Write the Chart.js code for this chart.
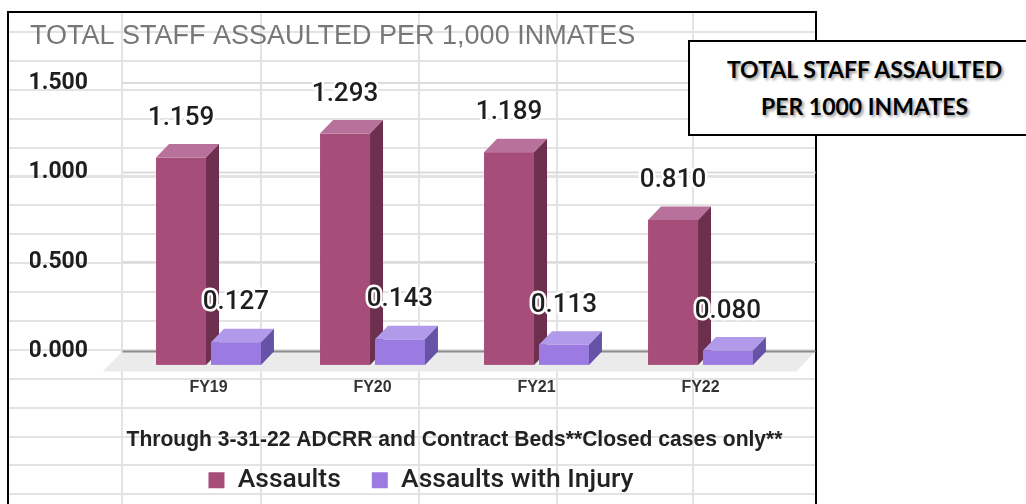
<!DOCTYPE html>
<html>
<head>
<meta charset="utf-8">
<script src="https://cdn.jsdelivr.net/npm/chart.js@4.4.1/dist/chart.umd.min.js"></script>
<style>
html,body{margin:0;padding:0;background:#fff;overflow:hidden;}
body{width:1026px;height:504px;position:relative;}
/* spreadsheet cells behind the pasted chart */
#cols{position:absolute;left:9px;top:13px;width:806px;height:491px;
  background-image:linear-gradient(90deg,
    transparent 112px,#e3e3e3 112px,#e3e3e3 114px,transparent 114px,
    transparent 251px,#e3e3e3 251px,#e3e3e3 253px,transparent 253px,
    transparent 409px,#e3e3e3 409px,#e3e3e3 411px,transparent 411px,
    transparent 547px,#e3e3e3 547px,#e3e3e3 549px,transparent 549px,
    transparent 683px,#e3e3e3 683px,#e3e3e3 685px,transparent 685px);}
#rows{position:absolute;left:9px;top:31px;width:806px;height:473px;
  background-image:repeating-linear-gradient(180deg,#e3e3e3 0px,#e3e3e3 2px,transparent 2px,transparent 28.9px);}
#frame{position:absolute;left:7px;top:11px;width:810px;height:520px;border:2px solid #000;box-sizing:border-box;}
#wrap{position:absolute;left:0;top:0;width:1026px;height:504px;}
#note{position:absolute;left:688px;top:40px;width:353px;height:96px;border:2px solid #000;box-sizing:border-box;
  background:#fff;padding-top:9px;text-align:center;font-family:Lato,sans-serif;font-weight:700;font-size:23px;
  line-height:36.5px;color:#000;text-shadow:2px 2px 3px rgba(0,0,0,0.4);}
</style>
</head>
<body>
<div id="cols"></div>
<div id="rows"></div>
<div id="frame"></div>
<div id="wrap"><canvas id="chart"></canvas></div>
<div id="note">TOTAL STAFF ASSAULTED<br>PER 1000 INMATES</div>
<script>
const categories = ["FY19", "FY20", "FY21", "FY22"];
const assaults = [1.159, 1.293, 1.189, 0.810];
const assaultsWithInjury = [0.127, 0.143, 0.113, 0.080];
const yMin = 0, yMax = 1.5, yStep = 0.5;

// 3d look: depth of the bars and of the floor
const DX = 13, DY = 13.5;
const shades = [
  {front: "#a64d79", top: "#b8719a", side: "#6d2f4e"},
  {front: "#9b7be1", top: "#b09ae9", side: "#6652a7"}
];

function poly(ctx, pts){
  ctx.beginPath();
  ctx.moveTo(pts[0][0], pts[0][1]);
  for(let i=1;i<pts.length;i++) ctx.lineTo(pts[i][0], pts[i][1]);
  ctx.closePath();
  ctx.fill();
}

const bars3d = {
  id: "bars3d",
  beforeDatasetsDraw(chart){
    const {ctx, chartArea: a, scales: {y}} = chart;
    const wallL = a.left - 4, wallR = a.right + 33;
    const y0 = y.getPixelForValue(0);
    ctx.save();

    // back wall gridlines
    ctx.strokeStyle = "#dcdcdc";
    ctx.lineWidth = 2;
    y.ticks.forEach(t => {
      if(t.value === 0) return;
      const py = y.getPixelForValue(t.value);
      ctx.beginPath(); ctx.moveTo(wallL, py); ctx.lineTo(wallR, py); ctx.stroke();
    });

    // floor + zero line
    ctx.fillStyle = "#ebebeb";
    poly(ctx, [[wallL, y0], [wallR, y0], [wallR - 19, y0 + 20], [wallL - 20, y0 + 20]]);
    ctx.strokeStyle = "#8c8c8c";
    ctx.beginPath(); ctx.moveTo(wallL, y0); ctx.lineTo(wallR, y0); ctx.stroke();

    // bars: front face, top, right side
    chart.data.datasets.forEach((ds, di) => {
      const c = shades[di];
      chart.getDatasetMeta(di).data.forEach(bar => {
        const {x, y: top, base, width} = bar.getProps(["x", "y", "base", "width"], true);
        const l = x - width/2, r = x + width/2;
        const ft = top + DY, fb = base + DY;
        ctx.fillStyle = c.front;
        ctx.fillRect(l, ft, width, fb - ft);
        ctx.fillStyle = c.top;
        poly(ctx, [[l, ft], [l + DX, top], [r + DX, top], [r, ft]]);
        ctx.fillStyle = c.side;
        poly(ctx, [[r, ft], [r + DX, top], [r + DX, base], [r, fb]]);
      });
    });

    // value labels with white halo
    ctx.font = "500 26px Roboto";
    ctx.textAlign = "center";
    ctx.textBaseline = "middle";
    ctx.lineJoin = "round";
    ctx.lineWidth = 5;
    ctx.strokeStyle = "#fff";
    ctx.fillStyle = "#1e1e1e";
    chart.data.datasets.forEach((ds, di) => {
      chart.getDatasetMeta(di).data.forEach((bar, i) => {
        const {x, y: top} = bar.getProps(["x", "y"], true);
        const txt = ds.data[i].toFixed(3);
        ctx.strokeText(txt, x, top - 26);
        ctx.fillText(txt, x, top - 26);
      });
    });

    ctx.restore();
    return false;
  }
};

new Chart(document.getElementById("chart"), {
  type: "bar",
  data: {
    labels: categories,
    datasets: [
      {label: "Assaults", data: assaults, backgroundColor: shades[0].front, borderWidth: 0, yAxisID: "y",
       categoryPercentage: 0.67, barPercentage: 0.91},
      {label: "Assaults with Injury", data: assaultsWithInjury, backgroundColor: shades[1].front, borderWidth: 0, yAxisID: "y",
       categoryPercentage: 0.67, barPercentage: 0.91}
    ]
  },
  options: {
    responsive: true,
    maintainAspectRatio: false,
    animation: false,
    layout: {padding: {left: 30, right: 214, top: 10, bottom: 0.5}},
    plugins: {
      title: {
        display: true,
        text: "TOTAL STAFF ASSAULTED PER 1,000 INMATES",
        align: "start",
        color: "#777",
        font: {family: "Liberation Sans", size: 27, weight: "400", lineHeight: 1.2},
        padding: {top: 10.5, bottom: 30.1}
      },
      legend: {
        position: "bottom",
        labels: {boxWidth: 16, boxHeight: 16, padding: 31, color: "#222",
                 font: {family: "Roboto", size: 26.5, weight: "500"}}
      },
      tooltip: {enabled: false}
    },
    scales: {
      x: {
        grid: {display: false, drawTicks: false, tickLength: 0},
        border: {display: false},
        ticks: {padding: 27, color: "#333", font: {family: "Liberation Sans", size: 16, weight: "bold"}},
        title: {
          display: true,
          text: "Through 3-31-22 ADCRR and Contract Beds**Closed cases only**",
          color: "#222",
          font: {family: "Liberation Sans", size: 22, weight: "bold", lineHeight: 1},
          padding: {top: 0, bottom: -15.25}
        },
        afterFit(s){ s.height = 84.6; }
      },
      y: {
        min: yMin, max: yMax,
        grid: {display: false, drawTicks: false, tickLength: 0},
        border: {display: false},
        ticks: {stepSize: yStep, padding: 38.5, color: "#1e1e1e",
                font: {family: "Roboto", size: 23, weight: "700"},
                callback: v => Number(v).toFixed(3)},
        afterFit(s){ s.width = 96.5; }
      },
      y2: {
        position: "right",
        grid: {display: false},
        border: {display: false},
        ticks: {display: false},
        afterFit(s){ s.width = 29.5; }
      }
    }
  },
  plugins: [bars3d]
});
</script>
</body>
</html>
